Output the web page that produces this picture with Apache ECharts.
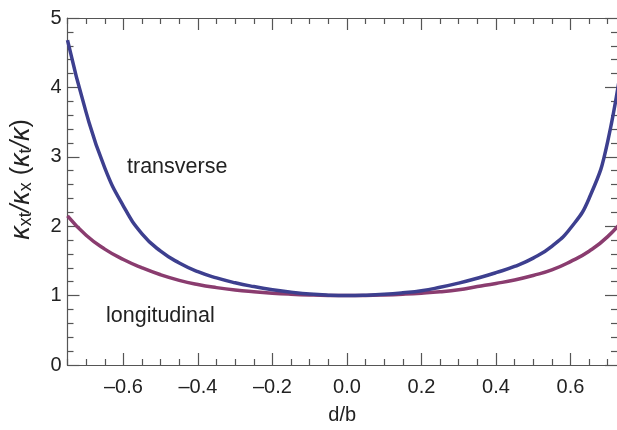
<!DOCTYPE html>
<html>
<head>
<meta charset="utf-8">
<script src="https://cdn.jsdelivr.net/npm/echarts@6/dist/echarts.min.js"></script>
<style>
html,body{margin:0;padding:0;background:#fff;}
#chart{width:617px;height:430px;}
</style>
</head>
<body>
<div id="chart"></div>
<script>
// d/b positions
var dbValues = [-0.75,-0.70,-0.65,-0.60,-0.55,-0.50,-0.45,-0.40,-0.35,-0.30,-0.25,-0.20,-0.15,-0.10,-0.05,0,
                 0.05,0.10,0.15,0.20,0.25,0.30,0.35,0.40,0.45,0.50,0.55,0.60,0.65,0.70,0.75];
var transverse = [4.68,3.64,2.84,2.29,1.89,1.64,1.47,1.345,1.255,1.185,1.13,1.085,1.05,1.022,1.006,1.0,
                  1.005,1.018,1.04,1.07,1.12,1.18,1.25,1.33,1.42,1.54,1.71,1.97,2.40,3.22,4.85];
var longitudinal = [2.15,1.87,1.67,1.52,1.40,1.30,1.22,1.16,1.115,1.08,1.055,1.035,1.02,1.009,1.002,1.0,
                    1.002,1.009,1.02,1.035,1.055,1.085,1.13,1.175,1.225,1.29,1.37,1.49,1.64,1.85,2.15];
var xMajorTicks = [-0.6,-0.4,-0.2,0,0.2,0.4,0.6];
var xMinorTicks = [-0.75,-0.7,-0.65,-0.55,-0.5,-0.45,-0.35,-0.3,-0.25,-0.15,-0.1,-0.05,0.05,0.1,0.15,0.25,0.3,0.35,0.45,0.5,0.55,0.65,0.7];
var yTickLabels = [0,1,2,3,4,5];

var chart = echarts.init(document.getElementById('chart'), null, {renderer:'canvas'});
function pairs(xs, ys){ return xs.map(function(x,i){ return [x, ys[i]]; }); }
var axisColor = '#555';
var fontFam = '"Liberation Sans", Arial, sans-serif';
function xAx(pos, major, showLabel, showName){
  return {
    type:'value', position: pos, min:-0.75, max:0.725,
    name: showName ? 'd/b' : '', nameLocation:'middle', nameGap:40,
    nameTextStyle:{fontSize:20, color:'#222', fontFamily:fontFam},
    axisLine:{show:true, onZero:false, lineStyle:{color:axisColor, width:1.2}},
    axisTick:{show:true, inside:true, length: major?12:6, customValues: major?xMajorTicks:xMinorTicks, lineStyle:{color:axisColor, width:1.2}},
    axisLabel:{show:showLabel, customValues:xMajorTicks, fontSize:20, color:'#222', fontFamily:fontFam, margin:12,
      formatter:function(v){ return v.toFixed(1).replace('-', '\u2013'); }},
    splitLine:{show:false}
  };
}
function yAx(pos, showLabel){
  return {
    type:'value', position: pos, min:0, max:5, interval:1,
    name: showLabel ? '{k|\u03ba}{s|xt}{k|/\u03ba}{s|x}{n| (}{k|\u03ba}{s|t}{k|/\u03ba}{n|)}' : '',
    nameLocation:'middle', nameGap:32, nameRotate:90,
    nameTextStyle:{fontSize:25, color:'#222', fontFamily:fontFam, padding:[0,0,0,24],
      rich:{
        k:{fontSize:27, fontStyle:'italic', fontFamily:fontFam, color:'#222'},
        n:{fontSize:25, fontFamily:fontFam, color:'#222'},
        s:{fontSize:18, fontFamily:fontFam, color:'#222', padding:[10,0,0,0]}
      }},
    axisLine:{show:showLabel, onZero:false, lineStyle:{color:axisColor, width:1.2}},
    axisTick:{show:true, inside:true, length:12, lineStyle:{color:axisColor, width:1.2}},
    minorTick:{show:true, splitNumber:5, length:6, lineStyle:{color:axisColor, width:1.2}},
    axisLabel:{show:showLabel, fontSize:20, color:'#222', fontFamily:fontFam, margin:6},
    splitLine:{show:false}, minorSplitLine:{show:false}
  };
}
var option = {
  animation:false,
  backgroundColor:'#fff',
  grid:{left:58, top:18, bottom:62, right:0, containLabel:false},
  xAxis:[xAx('bottom',true,true,true), xAx('bottom',false,false,false), xAx('top',true,false,false), xAx('top',false,false,false)],
  yAxis:[yAx('left',true), yAx('right',false)],
  series:[
    {name:'transverse', type:'line', data:pairs(dbValues, transverse), smooth:0.5, showSymbol:false, clip:true,
      lineStyle:{color:'#3d3f8f', width:3.5}, xAxisIndex:0, yAxisIndex:0, z:3},
    {name:'longitudinal', type:'line', data:pairs(dbValues, longitudinal), smooth:0.5, showSymbol:false, clip:true,
      lineStyle:{color:'#8a3c6f', width:3.5}, xAxisIndex:0, yAxisIndex:0, z:2}
  ],
  graphic:[
    {type:'text', left:127, top:156, style:{text:'transverse', fontSize:21.5, fill:'#222', fontFamily:fontFam}},
    {type:'text', left:106, top:305, style:{text:'longitudinal', fontSize:21.5, fill:'#222', fontFamily:fontFam}}
  ]
};
chart.setOption(option);
</script>
</body>
</html>
